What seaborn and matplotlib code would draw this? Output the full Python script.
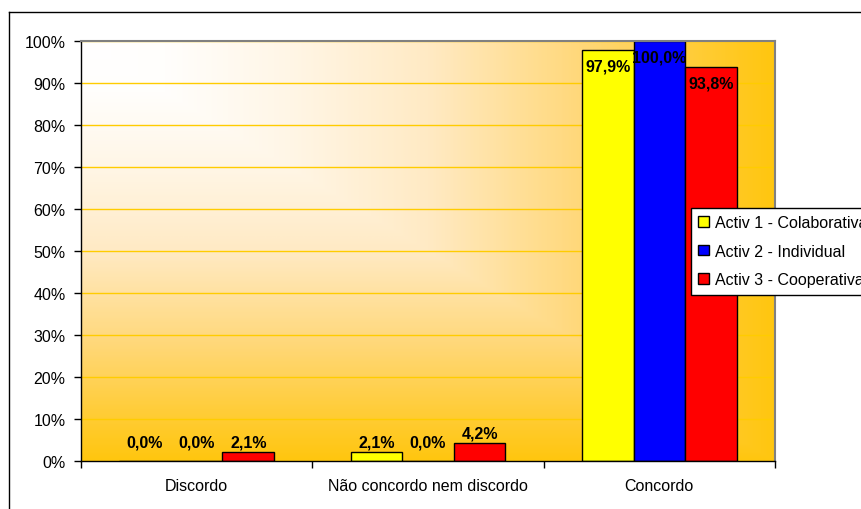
import numpy as np
import pandas as pd
import matplotlib
matplotlib.use("Agg")
import matplotlib.pyplot as plt
from matplotlib.colors import LinearSegmentedColormap
from matplotlib.lines import Line2D
import seaborn as sns

# Response categories and the percentage per activity
categories = ["Discordo", "Não concordo nem discordo", "Concordo"]
series = ["Activ 1 - Colaborativa", "Activ 2 - Individual", "Activ 3 - Cooperativa"]
activ1 = [0.0, 2.1, 97.9]
activ2 = [0.0, 0.0, 100.0]
activ3 = [2.1, 4.2, 93.8]
y_ticks = [0, 10, 20, 30, 40, 50, 60, 70, 80, 90, 100]
y_tick_labels = [f"{t}%" for t in y_ticks]
colors = ["#FFFF00", "#0000FF", "#FF0000"]

rows = []
for name, vals in zip(series, [activ1, activ2, activ3]):
    for cat, v in zip(categories, vals):
        rows.append({"categoria": cat, "actividade": name, "valor": v})
df = pd.DataFrame(rows)

plt.rcParams["font.family"] = ["Liberation Sans", "DejaVu Sans"]
FS = 11.5

fig = plt.figure(figsize=(8.62, 5.10), dpi=100)
ax = fig.add_axes([81 / 862, 1 - 462 / 510, (775 - 81) / 862, (462 - 42) / 510])

# Corner gradient background: white at top-left to gold towards right/bottom
H, W = 300, 500
u = np.linspace(0, 1, W)[None, :]
v = np.linspace(0, 1, H)[:, None]
t = np.maximum(u, v)
cmap = LinearSegmentedColormap.from_list(
    "fundo",
    [(0.0, "#FFFFFF"), (0.12, "#FFFEFC"), (0.3, "#FFF6E6"), (0.5, "#FFEAC4"),
     (0.72, "#FFD87A"), (0.88, "#FFCD3A"), (1.0, "#FFC60F")],
)
ax.imshow(t, cmap=cmap, vmin=0, vmax=1, extent=[0, 1, 0, 1], origin="upper",
          transform=ax.transAxes, aspect="auto", zorder=0, interpolation="bilinear")

sns.barplot(data=df, x="categoria", y="valor", hue="actividade", order=categories,
            hue_order=series, palette=colors, saturation=1, width=0.67,
            edgecolor="black", linewidth=1, ax=ax, zorder=2)

ax.set_xlim(-0.5, 2.5)
ax.set_ylim(0, 100)
ax.set_yticks(y_ticks)
ax.set_yticklabels(y_tick_labels, fontsize=FS)
ax.set_xlabel("")
ax.set_ylabel("")
ax.tick_params(axis="y", length=5, width=1, pad=6, colors="black")
ax.tick_params(axis="x", which="major", length=0, pad=12, labelsize=FS)
ax.set_xticks([-0.5, 0.5, 1.5, 2.5], minor=True)
ax.tick_params(axis="x", which="minor", length=5, width=1)

ax.yaxis.grid(True, color="#FFCC00", linewidth=1, zorder=1)
ax.set_axisbelow(True)
for side in ["top", "right"]:
    ax.spines[side].set_color("#808080")
    ax.spines[side].set_linewidth(1.5)
for side in ["left", "bottom"]:
    ax.spines[side].set_color("black")
    ax.spines[side].set_linewidth(1)

# Value labels
for container, vals in zip(ax.containers, [activ1, activ2, activ3]):
    for bar, val in zip(container, vals):
        txt = f"{val:.1f}%".replace(".", ",")
        xc = bar.get_x() + bar.get_width() / 2
        if val > 50:
            ax.annotate(txt, (xc, val), xytext=(0, -11.5), textcoords="offset points",
                        ha="center", va="center", fontsize=FS, fontweight="bold",
                        color="black", zorder=5, annotation_clip=False)
        else:
            ax.annotate(txt, (xc, max(val, 2.1)), xytext=(0, 7.5), textcoords="offset points",
                        ha="center", va="center", fontsize=FS, fontweight="bold",
                        color="black", zorder=5)

handles, labels = ax.get_legend_handles_labels()
ax.get_legend().remove()
for h, c in zip(handles, colors):
    h.set_facecolor(c)
    h.set_edgecolor("black")
    h.set_linewidth(1)
leg = ax.legend(handles, labels, loc="upper left",
                bbox_to_anchor=(691 / 862, 1 - 209 / 510), bbox_transform=fig.transFigure,
                borderaxespad=0, fontsize=FS, frameon=True, fancybox=False,
                edgecolor="black", framealpha=1, handlelength=0.65, handleheight=0.65,
                handletextpad=0.4, labelspacing=0.85, borderpad=0.45)
leg.get_frame().set_linewidth(1)
leg.set_zorder(10)

# Outer chart frame
fig.add_artist(Line2D([9.5 / 862, 9.5 / 862], [0, 1 - 12.5 / 510], color="black", lw=1))
fig.add_artist(Line2D([9.5 / 862, 1], [1 - 12.5 / 510, 1 - 12.5 / 510], color="black", lw=1))

fig.savefig("out.png", dpi=100)
